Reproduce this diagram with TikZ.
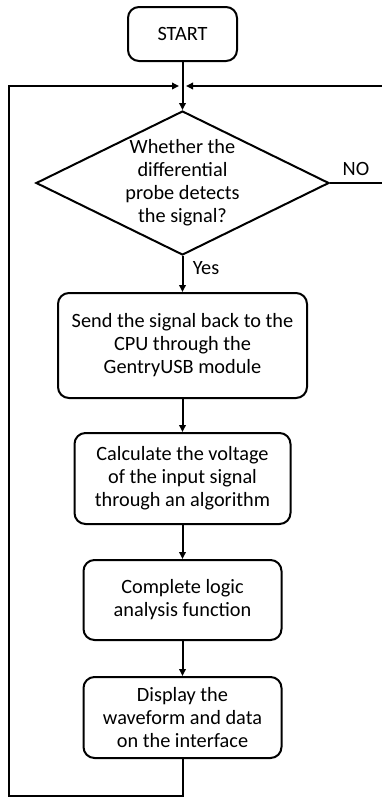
\documentclass[tikz,border=0pt]{standalone}
\usepackage{fontspec}
\setmainfont{Carlito}
\usetikzlibrary{shapes.geometric,arrows.meta}
\begin{document}
\begin{tikzpicture}[x=1pt,y=-1pt,
  txt/.style={font=\fontsize{20.3}{23}\selectfont},
  box/.style={txt, draw, rounded corners=11pt, line width=2pt, align=center, inner sep=0pt},
  dec/.style={txt, draw, diamond, line width=2pt, align=center, inner sep=0pt, aspect=2.03},
  ln/.style={line width=2pt},
  arr/.style={line width=2pt, -{Triangle[length=7pt,width=6.5pt]}}]
\useasboundingbox (0,0) rectangle (382,798);
\clip (0,0) rectangle (382,798);
\node[box, minimum width=109pt, minimum height=54pt] (start) at (182.5,34) {START};
\node[dec, minimum width=293pt, minimum height=144pt] (dec) at (182.5,183) {Whether the\\differential\\probe detects\\the signal?};
\node[box, minimum width=249pt, minimum height=105pt] (b1) at (182.5,345.5) {Send the signal back to the\\CPU through the\\GentryUSB module};
\node[box, minimum width=216pt, minimum height=91pt] (b2) at (182.5,478.5) {Calculate the voltage\\of the input signal\\through an algorithm};
\node[box, minimum width=198pt, minimum height=80pt] (b3) at (182.5,600) {Complete logic\\analysis function};
\node[box, minimum width=198pt, minimum height=81pt] (b4) at (182.5,717.5) {Display the\\waveform and data\\on the interface};
\node[txt, inner sep=0pt] (no) at (356,169) {NO};
\node[txt, inner sep=0pt] (yes) at (206,268) {Yes};
\coordinate (j) at (182.5,86);
\coordinate (jl) at (179,86);
\coordinate (jr) at (186,86);
\coordinate (lb) at (9,796);
\coordinate (rt) at (386,86);
\draw[ln] (start.south) -- (j);
\draw[arr] (j) -- (dec.north);
\draw[arr] (dec.south) -- (b1.north);
\draw[arr] (b1.south) -- (b2.north);
\draw[arr] (b2.south) -- (b3.north);
\draw[arr] (b3.south) -- (b4.north);
\draw[arr] (b4.south) |- (lb) |- (jl);
\draw[arr] (dec.east) -| (rt) -- (jr);
\end{tikzpicture}
\end{document}
